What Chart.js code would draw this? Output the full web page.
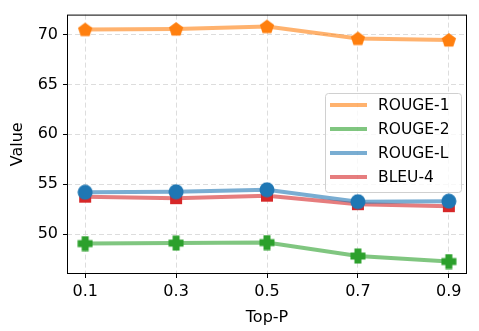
<!DOCTYPE html>
<html>
<head>
<meta charset="utf-8">
<script src="https://cdn.jsdelivr.net/npm/chart.js@4"></script>
<style>html,body{margin:0;padding:0;background:#fff}</style>
</head>
<body>
<canvas id="chart" width="479" height="331"></canvas>
<script>
const topP = [0.1, 0.3, 0.5, 0.7, 0.9];
const rouge1 = [70.5, 70.55, 70.8, 69.6, 69.45];
const rouge2 = [49.05, 49.1, 49.15, 47.8, 47.25];
const rougeL = [54.2, 54.25, 54.45, 53.25, 53.3];
const bleu4 = [53.75, 53.6, 53.85, 53.0, 52.8];
const yTicks = [50, 55, 60, 65, 70];

const FONT = 'DejaVu Sans';

// marker images (matplotlib-ish shapes)
function marker(shape, color) {
  const s = 16;
  const c = document.createElement('canvas');
  c.width = s; c.height = s;
  const g = c.getContext('2d');
  g.fillStyle = color;
  g.beginPath();
  if (shape === 'pentagon') {
    for (let i = 0; i < 5; i++) {
      const a = -Math.PI / 2 + i * 2 * Math.PI / 5;
      const x = 8 + 7.5 * Math.cos(a), y = 8.5 + 7.5 * Math.sin(a);
      i ? g.lineTo(x, y) : g.moveTo(x, y);
    }
  } else if (shape === 'plus') {
    const a = 3.5, b = 7.5;
    const pts = [[-a,-b],[a,-b],[a,-a],[b,-a],[b,a],[a,a],[a,b],[-a,b],[-a,a],[-b,a],[-b,-a],[-a,-a]];
    pts.forEach((p, i) => i ? g.lineTo(8 + p[0], 8 + p[1]) : g.moveTo(8 + p[0], 8 + p[1]));
  } else if (shape === 'circle') {
    g.arc(8, 8, 7.5, 0, Math.PI * 2);
  } else {
    g.rect(2, 2, 12, 12);
  }
  g.closePath();
  g.fill();
  return c;
}

const series = [
  { label: 'ROUGE-1', data: rouge1, color: '#ff7f0e', line: 'rgba(255,127,14,0.6)', shape: 'pentagon' },
  { label: 'ROUGE-2', data: rouge2, color: '#2ca02c', line: 'rgba(44,160,44,0.6)', shape: 'plus' },
  { label: 'ROUGE-L', data: rougeL, color: '#1f77b4', line: 'rgba(31,119,180,0.6)', shape: 'circle' },
  { label: 'BLEU-4', data: bleu4, color: '#d62728', line: 'rgba(214,39,40,0.6)', shape: 'square' }
];

const datasets = series.map(s => ({
  label: s.label,
  data: topP.map((x, i) => ({ x: x, y: s.data[i] })),
  borderColor: s.line,
  borderWidth: 4,
  pointStyle: marker(s.shape, s.color),
  pointRadius: 8,
  tension: 0
}));

const framePlugin = {
  id: 'frame',
  afterDraw(chart) {
    const { ctx, chartArea: a } = chart;
    ctx.save();
    ctx.strokeStyle = '#000';
    ctx.lineWidth = 1;
    ctx.strokeRect(a.left + 0.5, a.top + 0.5, a.right - a.left - 1, a.bottom - a.top - 1);

    // legend box
    const bx = 325, by = 93, bw = 136, bh = 99;
    ctx.fillStyle = 'rgba(255,255,255,0.8)';
    ctx.strokeStyle = '#d0d0d0';
    ctx.beginPath();
    ctx.roundRect(bx + 0.5, by + 0.5, bw, bh, 3);
    ctx.fill();
    ctx.stroke();
    ctx.font = '15.5px "' + FONT + '"';
    ctx.textBaseline = 'middle';
    series.forEach((s, i) => {
      const y = 105 + i * 24;
      ctx.strokeStyle = s.line;
      ctx.lineWidth = 4;
      ctx.beginPath();
      ctx.moveTo(330, y);
      ctx.lineTo(367, y);
      ctx.stroke();
      ctx.fillStyle = '#000';
      ctx.fillText(s.label, 378, y + 1);
    });
    ctx.restore();
  }
};

new Chart(document.getElementById('chart'), {
  type: 'line',
  data: { datasets: datasets },
  options: {
    responsive: false,
    animation: false,
    layout: { padding: { left: 0, right: 12, top: 11, bottom: 0 } },
    plugins: { legend: { display: false }, tooltip: { enabled: false } },
    scales: {
      x: {
        type: 'linear',
        min: 0.06,
        max: 0.94,
        afterBuildTicks: axis => { axis.ticks = topP.map(v => ({ value: v })); },
        afterFit: axis => { axis.height = 57; },
        ticks: {
          color: '#000',
          font: { family: FONT, size: 16 },
          padding: 4,
          maxRotation: 0,
          callback: v => v.toFixed(1)
        },
        grid: { color: '#dddddd', tickColor: '#000', tickLength: 4, tickBorderDash: [] },
        border: { display: false, dash: [5, 3] },
        title: { display: true, text: 'Top-P', color: '#000', font: { family: FONT, size: 16 }, padding: { top: 0 } }
      },
      y: {
        min: 46,
        max: 72,
        afterBuildTicks: axis => { axis.ticks = yTicks.map(v => ({ value: v })); },
        afterFit: axis => { axis.width = 67; },
        ticks: { color: '#000', font: { family: FONT, size: 16 }, padding: 5 },
        grid: { color: '#dddddd', tickColor: '#000', tickLength: 4, tickBorderDash: [] },
        border: { display: false, dash: [5, 3] },
        title: { display: true, text: 'Value', color: '#000', font: { family: FONT, size: 16 }, padding: { top: 8, bottom: 0 } }
      }
    }
  },
  plugins: [framePlugin]
});
</script>
</body>
</html>
